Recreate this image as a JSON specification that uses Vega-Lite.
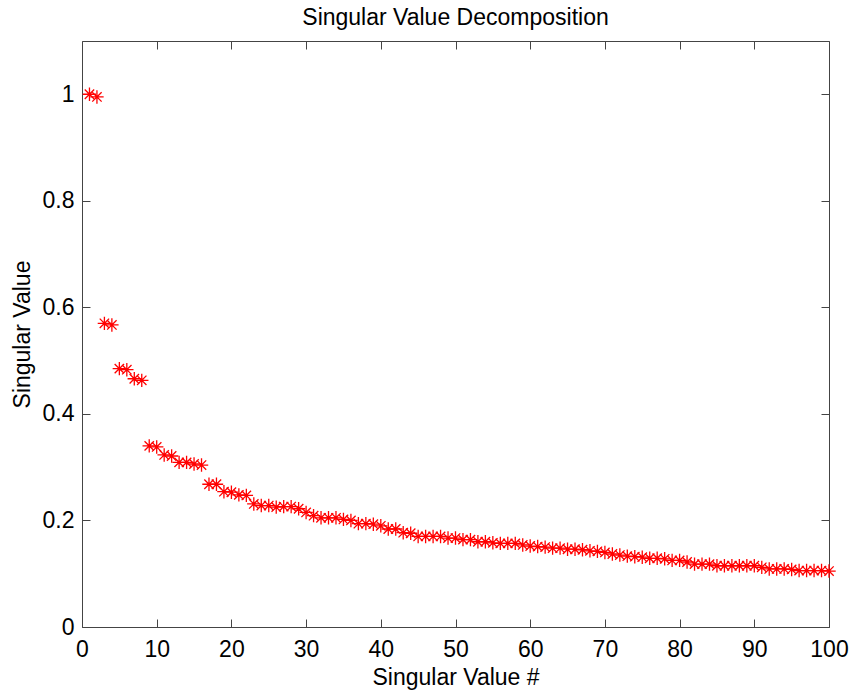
{
  "$schema": "https://vega.github.io/schema/vega-lite/v6.json",
  "width": 747,
  "height": 586,
  "autosize": "none",
  "padding": {"left": 82, "top": 41, "right": 24, "bottom": 67},
  "background": "white",
  "title": {"text": "Singular Value Decomposition", "font": "Liberation Sans", "fontSize": 23, "fontWeight": "normal", "color": "black", "offset": 11},
  "config": {
    "view": {"stroke": null},
    "axis": {"grid": false, "domainColor": "#444444", "tickColor": "#444444", "tickSize": -8, "labelFont": "Liberation Sans", "labelFontSize": 23, "labelColor": "black", "titleFont": "Liberation Sans", "titleFontSize": 23, "titleFontWeight": "normal", "titleColor": "black", "labelOverlap": false, "labelFlush": false}
  },
  "data": {"values": [
    {"n":1,"s":1.0},{"n":2,"s":0.995},{"n":3,"s":0.570},{"n":4,"s":0.567},{"n":5,"s":0.485},
    {"n":6,"s":0.483},{"n":7,"s":0.466},{"n":8,"s":0.463},{"n":9,"s":0.340},{"n":10,"s":0.338},
    {"n":11,"s":0.323},{"n":12,"s":0.321},{"n":13,"s":0.309},{"n":14,"s":0.309},{"n":15,"s":0.306},
    {"n":16,"s":0.304},{"n":17,"s":0.268},{"n":18,"s":0.268},{"n":19,"s":0.254},{"n":20,"s":0.253},
    {"n":21,"s":0.248},{"n":22,"s":0.247},{"n":23,"s":0.231},{"n":24,"s":0.228},{"n":25,"s":0.228},
    {"n":26,"s":0.225},{"n":27,"s":0.226},{"n":28,"s":0.226},{"n":29,"s":0.222},{"n":30,"s":0.215},
    {"n":31,"s":0.209},{"n":32,"s":0.205},{"n":33,"s":0.205},{"n":34,"s":0.205},{"n":35,"s":0.202},
    {"n":36,"s":0.200},{"n":37,"s":0.194},{"n":38,"s":0.194},{"n":39,"s":0.193},{"n":40,"s":0.190},
    {"n":41,"s":0.184},{"n":42,"s":0.184},{"n":43,"s":0.177},{"n":44,"s":0.176},{"n":45,"s":0.170},
    {"n":46,"s":0.170},{"n":47,"s":0.170},{"n":48,"s":0.170},{"n":49,"s":0.167},{"n":50,"s":0.167},
    {"n":51,"s":0.164},{"n":52,"s":0.164},{"n":53,"s":0.160},{"n":54,"s":0.160},{"n":55,"s":0.158},
    {"n":56,"s":0.157},{"n":57,"s":0.157},{"n":58,"s":0.157},{"n":59,"s":0.154},{"n":60,"s":0.152},
    {"n":61,"s":0.151},{"n":62,"s":0.150},{"n":63,"s":0.148},{"n":64,"s":0.148},{"n":65,"s":0.146},
    {"n":66,"s":0.146},{"n":67,"s":0.145},{"n":68,"s":0.143},{"n":69,"s":0.142},{"n":70,"s":0.140},
    {"n":71,"s":0.137},{"n":72,"s":0.135},{"n":73,"s":0.133},{"n":74,"s":0.132},{"n":75,"s":0.131},
    {"n":76,"s":0.129},{"n":77,"s":0.129},{"n":78,"s":0.128},{"n":79,"s":0.125},{"n":80,"s":0.125},
    {"n":81,"s":0.122},{"n":82,"s":0.118},{"n":83,"s":0.118},{"n":84,"s":0.118},{"n":85,"s":0.115},
    {"n":86,"s":0.115},{"n":87,"s":0.115},{"n":88,"s":0.115},{"n":89,"s":0.115},{"n":90,"s":0.115},
    {"n":91,"s":0.112},{"n":92,"s":0.109},{"n":93,"s":0.109},{"n":94,"s":0.109},{"n":95,"s":0.108},
    {"n":96,"s":0.106},{"n":97,"s":0.106},{"n":98,"s":0.106},{"n":99,"s":0.106},{"n":100,"s":0.105}
  ]},
  "layer": [
    {
      "mark": {"type": "point", "shape": "M-1,0L1,0M0,-1L0,1M-0.7,-0.7L0.7,0.7M-0.7,0.7L0.7,-0.7", "filled": false, "stroke": "#ff0000", "strokeWidth": 1.3, "size": 180, "opacity": 1},
      "encoding": {
        "x": {"field": "n", "type": "quantitative", "scale": {"domain": [0, 100], "nice": false, "zero": false}, "axis": {"values": [0,10,20,30,40,50,60,70,80,90,100], "title": "Singular Value #", "labelPadding": 19, "titlePadding": 5}},
        "y": {"field": "s", "type": "quantitative", "scale": {"domain": [0, 1.1], "nice": false}, "axis": {"values": [0,0.2,0.4,0.6,0.8,1], "format": "~g", "title": "Singular Value", "labelPadding": 16, "titlePadding": 8}}
      }
    },
    {
      "mark": {"type": "point", "opacity": 0},
      "encoding": {
        "x": {"field": "n", "type": "quantitative", "axis": {"orient": "top", "values": [0,10,20,30,40,50,60,70,80,90,100], "labels": false, "title": null}},
        "y": {"field": "s", "type": "quantitative", "axis": {"orient": "right", "values": [0,0.2,0.4,0.6,0.8,1], "labels": false, "title": null}}
      }
    }
  ],
  "resolve": {"axis": {"x": "independent", "y": "independent"}}
}
